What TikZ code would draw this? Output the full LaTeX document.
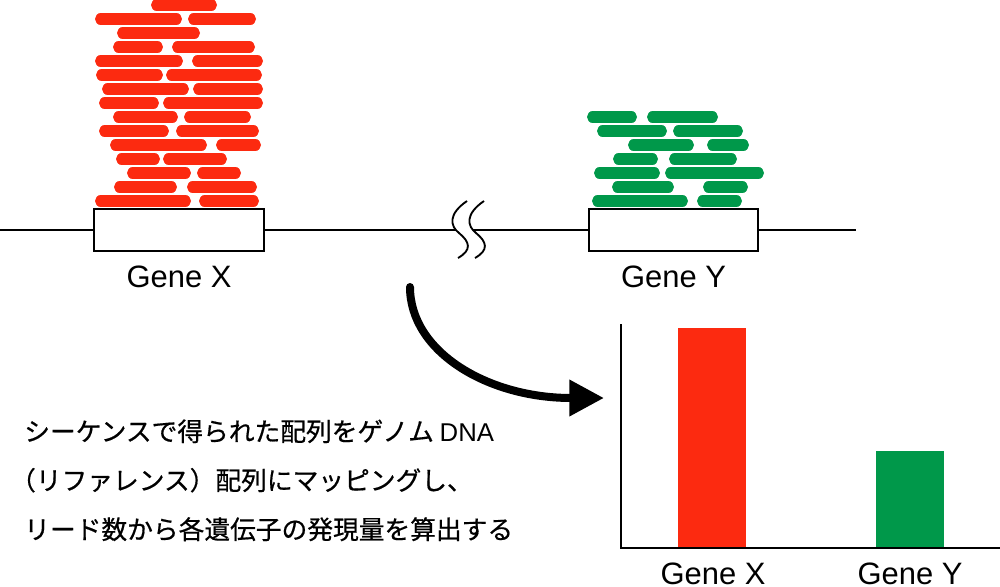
\documentclass[tikz,border=0pt]{standalone}
\usepackage{fontspec}
\setmainfont{Liberation Sans}
\newfontfamily\jpfont[FakeBold=0.6]{Noto Sans CJK JP}
\newfontfamily\latfont{Liberation Sans}
\usetikzlibrary{arrows.meta}
\definecolor{readred}{RGB}{252,42,16}
\definecolor{readgreen}{RGB}{0,152,74}
\begin{document}
\begin{tikzpicture}[x=0.75pt,y=-0.75pt,
  redread/.style={line width=8.4pt,line cap=round,draw=readred},
  greenread/.style={line width=8.4pt,line cap=round,draw=readgreen},
  genebox/.style={draw=black,fill=white,line width=1.9pt,minimum height=31.5pt,inner sep=0pt,outer sep=0pt},
  dnaline/.style={line width=1.5pt,draw=black},
  wave/.style={line width=1.4pt,draw=black},
  genelabel/.style={anchor=base,inner sep=0pt,font=\fontsize{23.2}{28}\selectfont},
  jptext/.style={anchor=base west,inner sep=0pt,font=\jpfont\fontsize{19.3}{24}\selectfont},
  bigarrow/.style={line width=6pt,line cap=round,-{Triangle[length=26pt,width=26pt]}},
  axisline/.style={line width=1.6pt,draw=black},
]
\useasboundingbox (0,0) rectangle (1000,586);

% red reads
\foreach \y/\a/\b in {5/151/217,
  19/95/182, 19/188/256,
  33/117/200,
  47/113/163, 47/172/255,
  61/95/183, 61/192/263,
  75/96/163, 75/166/262,
  89/102/189, 89/193/263,
  103/99/159, 103/163/263,
  117/113/178, 117/184/251,
  131/99/169, 131/176/259,
  145/110/207, 145/216/261,
  159/116/160, 159/163/227,
  173/127/191, 173/197/241,
  187/114/177, 187/187/257,
  201/95/191, 201/199/259}
  \draw[redread] (\a+5.6,\y) -- (\b-5.6,\y);

% green reads
\foreach \y/\a/\b in {117/587/637, 117/647/718,
  131/597/667, 131/673/743,
  145/628/694, 145/707/749,
  159/613/658, 159/669/737,
  173/594/660, 173/665/764,
  187/612/674, 187/703/748,
  201/592/688, 201/697/742}
  \draw[greenread] (\a+5.6,\y) -- (\b-5.6,\y);

% genome line
\coordinate (L0) at (0,230);
\coordinate (R0) at (856,230);
\coordinate (brkA) at (456,230);
\coordinate (brkB) at (473,230);
\node[genebox,minimum width=127.5pt] (boxX) at (179,230) {};
\node[genebox,minimum width=126.75pt] (boxY) at (673.5,230) {};
\draw[dnaline] (L0) -- (boxX.west);
\draw[dnaline] (boxX.east) -- (brkA);
\draw[dnaline] (brkB) -- (boxY.west);
\draw[dnaline] (boxY.east) -- (R0);

% break symbol
\foreach \d in {0,17}
  \draw[wave] (467+\d,201) .. controls (448+\d,214) and (450+\d,226) .. (459+\d,233)
              .. controls (470+\d,242) and (472+\d,250) .. (458+\d,258);

\node[genelabel] (labX) at (179,287) {Gene X};
\node[genelabel] (labY) at (673.5,287) {Gene Y};

% arrow
\coordinate (arrS) at (410,287);
\coordinate (arrE) at (604,398);
\draw[bigarrow] (arrS) .. controls (410,352) and (488,398) .. (arrE);

% chart
\coordinate (axTop) at (621,324);
\coordinate (axO) at (621,548);
\coordinate (axR) at (1000,548);
\fill[readred] (678,328) rectangle (746,548);
\fill[readgreen] (876,451) rectangle (944,548);
\draw[axisline] (axTop) -- (axO) -- (axR);
\node[genelabel] (cX) at (713,584) {Gene X};
\node[genelabel] (cY) at (910,584) {Gene Y};

% text
\node[jptext] (t1) at (24,441) {シーケンスで得られた配列をゲノム {\latfont DNA}};
\node[jptext] (t2) at (24,490) {\hspace*{-0.55em}（リファレンス）配列にマッピングし、};
\node[jptext] (t3) at (24,539) {リード数から各遺伝子の発現量を算出する};
\end{tikzpicture}
\end{document}
